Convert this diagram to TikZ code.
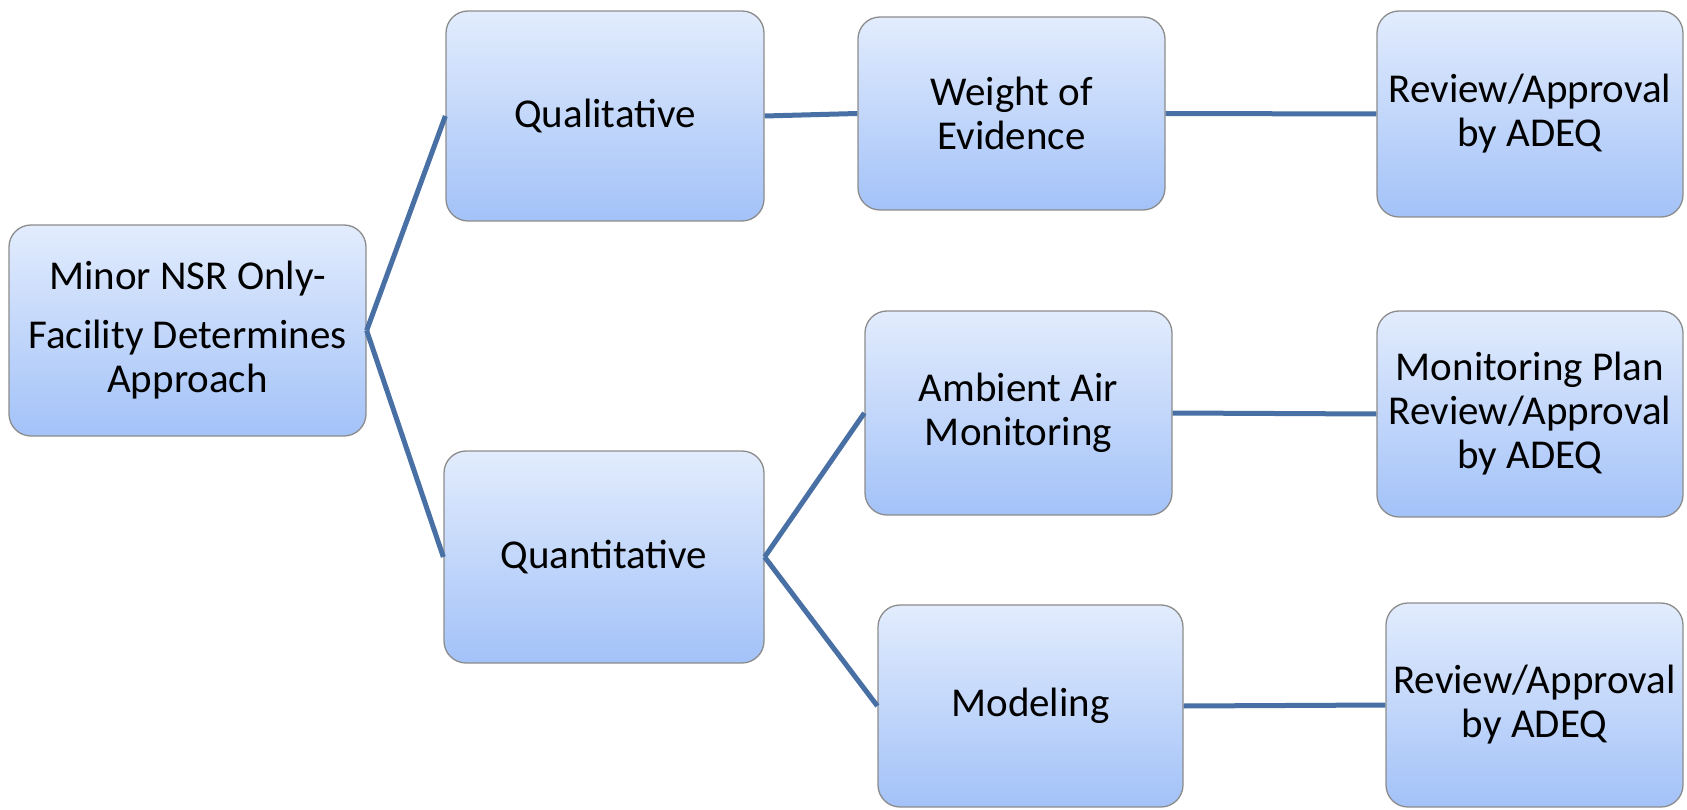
\documentclass[tikz,border=0pt]{standalone}
\usepackage{fontspec}
\setmainfont{Carlito}
\definecolor{boxtop}{RGB}{226,236,253}
\definecolor{boxbot}{RGB}{163,194,248}
\definecolor{boxline}{RGB}{140,140,140}
\definecolor{connc}{RGB}{72,112,164}
\begin{document}
\begin{tikzpicture}[x=1pt,y=-1pt,
  box/.style={rounded corners=22pt, draw=boxline, line width=1.3pt,
    top color=boxtop, bottom color=boxbot, align=center, inner sep=0pt,
    font=\fontsize{41}{44}\selectfont},
  conn/.style={draw=connc, line width=5pt}]
\useasboundingbox (0,0) rectangle (1687,810);
\node[box, minimum width=357pt, minimum height=211pt] (root) at (187.5,330.5) {Minor NSR Only-\\[15pt]Facility Determines\\Approach};
\node[box, minimum width=318pt, minimum height=210pt] (qual) at (605,116) {Qualitative};
\node[box, minimum width=320pt, minimum height=212pt] (quant) at (604,557) {Quantitative};
\node[box, minimum width=307pt, minimum height=193pt] (woe) at (1011.5,113.5) {Weight of\\Evidence};
\node[box, minimum width=307pt, minimum height=204pt] (amb) at (1018.5,413) {Ambient Air\\Monitoring};
\node[box, minimum width=305pt, minimum height=202pt] (mod) at (1030.5,706) {Modeling};
\node[box, minimum width=306pt, minimum height=206pt] (r1) at (1530,114) {Review/Approval\\by ADEQ};
\node[box, minimum width=306pt, minimum height=206pt] (r2) at (1530,414) {Monitoring Plan\\Review/Approval\\by ADEQ};
\node[box, minimum width=297pt, minimum height=204pt] (r3) at (1534.5,705) {Review/Approval\\by ADEQ};
\draw[conn] (root.east) -- (qual.west);
\draw[conn] (root.east) -- (quant.west);
\draw[conn] (qual.east) -- (woe.west);
\draw[conn] (woe.east) -- (r1.west);
\draw[conn] (quant.east) -- (amb.west);
\draw[conn] (quant.east) -- (mod.west);
\draw[conn] (amb.east) -- (r2.west);
\draw[conn] (mod.east) -- (r3.west);
\end{tikzpicture}
\end{document}
